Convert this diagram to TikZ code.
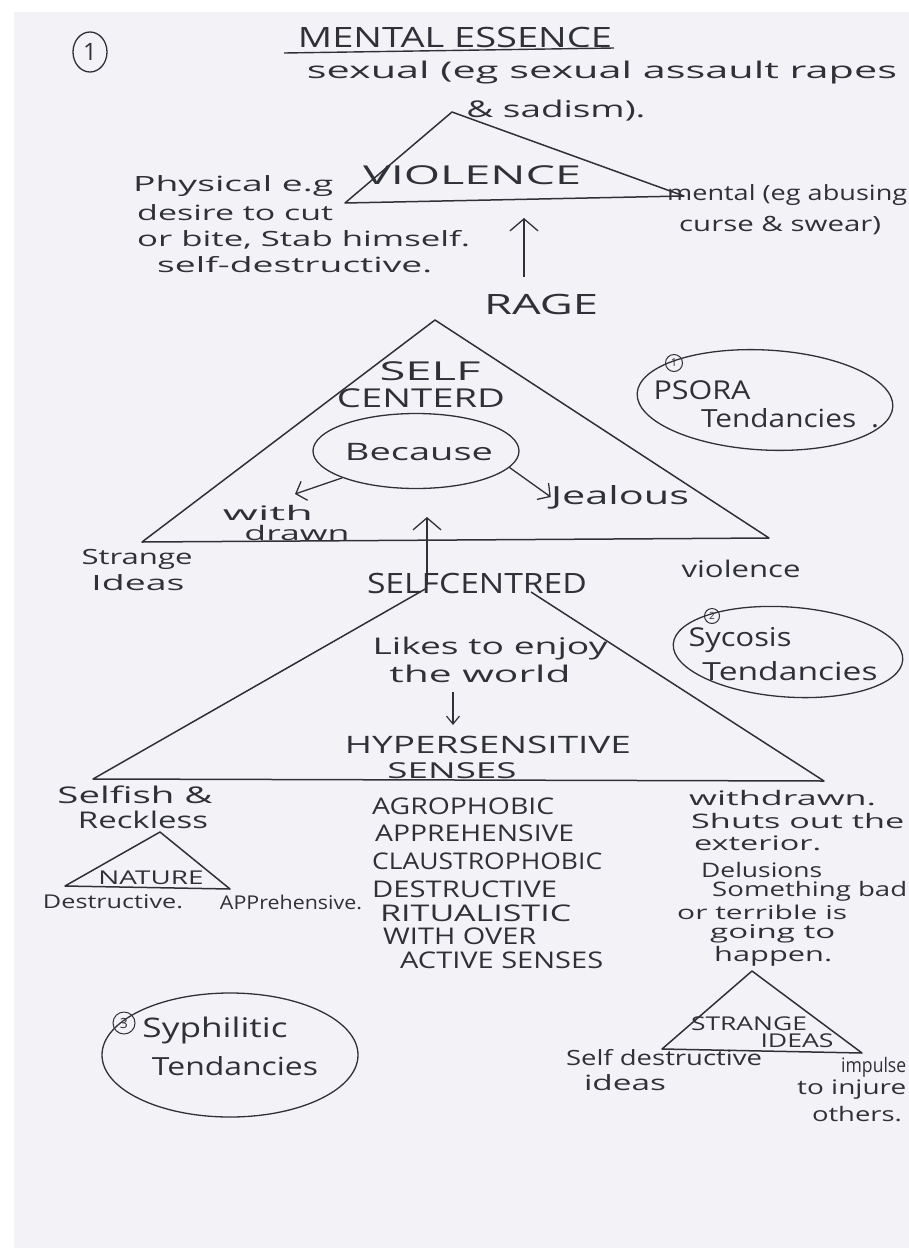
\documentclass[tikz,border=0pt]{standalone}
\usepackage{fontspec}
\setmainfont{Open Sans}
\usetikzlibrary{arrows.meta,shapes.geometric}
\definecolor{paper}{RGB}{243,243,247}
\definecolor{ink}{RGB}{48,48,56}
\newcommand{\hw}[3]{\resizebox{#1pt}{\height}{\fontsize{#2}{#2}\selectfont #3}}
\begin{document}
\begin{tikzpicture}[x=1pt,y=-1pt,
  lbl/.style={inner sep=0pt,text=ink},
  tri/.style={draw=ink,line width=1.5pt,line join=round},
  ring/.style={draw=ink,line width=1.3pt,ellipse,inner sep=0pt},
  num/.style={draw=ink,line width=1pt,circle,inner sep=0pt,text=ink},
  arr/.style={draw=ink,line width=1.3pt,-{Straight Barb[length=12pt,width=28pt]}},
  arrs/.style={draw=ink,line width=1.3pt,-{Straight Barb[length=9pt,width=20pt]}},
  arrt/.style={draw=ink,line width=1.2pt,-{Straight Barb[length=8pt,width=13pt]}}]
\useasboundingbox (0,0) rectangle (909,1248);
\clip (0,0) rectangle (909,1248);
\fill[white] (0,0) rectangle (909,1248);
\fill[paper] (14,12) rectangle (909,1248);

% ---- header
\node[ring,minimum width=34pt,minimum height=40pt,text=ink,font=\fontsize{24}{24}\selectfont] (one) at (90,52) {1};
\node[lbl] (title) at (455,37) {\hw{314}{28}{MENTAL ESSENCE}};
\coordinate (ul1) at (284,53);
\coordinate (ul2) at (614,48);
\draw[draw=ink,line width=1.4pt] (ul1) -- (ul2);
\node[lbl] (sexual) at (602,73) {\hw{590}{23}{sexual (eg sexual assault rapes}};
\node[lbl] (sadism) at (556,111) {\hw{179}{23}{\& sadism).}};

% ---- violence triangle
\coordinate (vA) at (452,112);
\coordinate (vL) at (345,203);
\coordinate (vR) at (684,196);
\draw[tri] (vA) -- (vL) -- (vR) -- cycle;
\node[lbl] (violence) at (472,175) {\hw{218}{26}{VIOLENCE}};
\node[lbl,anchor=west] (phys1) at (133,186) {\hw{200}{21}{Physical e.g}};
\node[lbl,anchor=west] (phys2) at (137,213) {\hw{196}{21}{desire to cut}};
\node[lbl,anchor=west] (phys3) at (137,240) {\hw{333}{21}{or bite, Stab himself.}};
\node[lbl,anchor=west] (phys4) at (157,265) {\hw{275}{21}{self-destructive.}};
\node[lbl,anchor=west] (ment1) at (667,195) {\hw{240}{21}{mental (eg abusing}};
\node[lbl,anchor=west] (ment2) at (679,226) {\hw{202}{21}{curse \& swear)}};

% ---- rage
\node[lbl] (rage) at (541,304) {\hw{114}{28}{RAGE}};
\coordinate (rageFoot) at (524,277);
\coordinate (rageTip) at (524,218);
\draw[arr] (rageFoot) -- (rageTip);

% ---- self centered triangle
\coordinate (scA) at (435,320);
\coordinate (scL) at (142,542);
\coordinate (scR) at (769,538);
\draw[tri] (scA) -- (scL) -- (scR) -- cycle;
\node[lbl] (self) at (430,371) {\hw{101}{26}{SELF}};
\node[lbl] (centerd) at (421,398) {\hw{168}{26}{CENTERD}};
\node[ring,minimum width=206pt,minimum height=75pt] (because) at (416,451) {};
\node[lbl] (becausetxt) at (419,452) {\hw{148}{24}{Because}};
\node[lbl] (with) at (268,513) {\hw{90}{20}{with}};
\node[lbl] (drawn) at (297,533) {\hw{105}{20}{drawn}};
\node[lbl] (jealous) at (620,497) {\hw{138}{25}{Jealous}};
\coordinate (wdTip) at (295,494);
\draw[arrs] (because.200) -- (wdTip);
\draw[arrs] (because.-10) -- (jealous.west);
\node[lbl] (strange) at (137,559) {\hw{111}{21}{Strange}};
\node[lbl] (ideas) at (138,583) {\hw{93}{21}{Ideas}};
\node[lbl] (violence2) at (741,569) {\hw{119}{23}{violence}};
\node[lbl] (selfcentred) at (477,583) {\hw{220}{28}{SELFCENTRED}};
\coordinate (scFoot) at (427,585);
\coordinate (scTip) at (427,517);
\draw[arr] (scFoot) -- (scTip);

% ---- psora
\node[ring,minimum width=256pt,minimum height=100pt,rotate=-3] (psora) at (765,400) {};
\node[num,minimum size=17pt,font=\fontsize{11}{11}\selectfont] (psnum) at (674,363) {1};
\node[lbl] (psoratxt) at (702,390) {\hw{97}{26}{PSORA}};
\node[lbl] (psoratend) at (790,418) {\hw{178}{25}{Tendancies\hspace{0.5em}.}};

% ---- lower big triangle
\coordinate (lowL0) at (427,588);
\coordinate (lowR0) at (531,592);
\coordinate (lowL) at (93,779);
\coordinate (lowR) at (824,781);
\draw[tri] (lowL0) -- (lowL) -- (lowR) -- (lowR0);
\node[lbl] (likes) at (490,649) {\hw{235}{23}{Likes to enjoy}};
\node[lbl] (world) at (480,674) {\hw{181}{23}{the world}};
\coordinate (hyTop) at (453,692);
\coordinate (hyTip) at (453,725);
\draw[arrt] (hyTop) -- (hyTip);
\node[lbl] (hyper) at (488,745) {\hw{286}{24}{HYPERSENSITIVE}};
\node[lbl] (senses) at (452,771) {\hw{129}{22}{SENSES}};

% ---- sycosis
\node[ring,minimum width=230pt,minimum height=90pt,rotate=-4] (sycosis) at (788,652) {};
\node[num,minimum size=15pt,font=\fontsize{10}{10}\selectfont] (synum) at (712,616) {2};
\node[lbl] (sycosistxt) at (740,640) {\hw{103}{26}{Sycosis}};
\node[lbl] (sycosistend) at (790,671) {\hw{175}{25}{Tendancies}};

% ---- left: nature
\node[lbl] (selfish) at (135,795) {\hw{155}{23}{Selfish \&}};
\node[lbl] (reckless) at (143,820) {\hw{130}{23}{Reckless}};
\coordinate (natA) at (160,832);
\coordinate (natL) at (65,886);
\coordinate (natR) at (230,889);
\draw[tri] (natA) -- (natL) -- (natR) -- cycle;
\node[lbl] (nature) at (151,878) {\hw{105}{19}{NATURE}};
\node[lbl] (destr) at (113,902) {\hw{140}{19}{Destructive.}};
\node[lbl] (appr) at (291,902) {\hw{142}{19}{APPrehensive.}};

% ---- middle list
\node[lbl,anchor=west] (l1) at (372,806) {\hw{182}{23}{AGROPHOBIC}};
\node[lbl,anchor=west] (l2) at (375,833) {\hw{199}{23}{APPREHENSIVE}};
\node[lbl,anchor=west] (l3) at (372,861) {\hw{230}{23}{CLAUSTROPHOBIC}};
\node[lbl,anchor=west] (l4) at (372,889) {\hw{185}{23}{DESTRUCTIVE}};
\node[lbl,anchor=west] (l5) at (380,913) {\hw{191}{23}{RITUALISTIC}};
\node[lbl,anchor=west] (l6) at (383,936) {\hw{153}{23}{WITH OVER}};
\node[lbl,anchor=west] (l7) at (400,960) {\hw{203}{23}{ACTIVE SENSES}};

% ---- right block
\node[lbl,anchor=west] (r1) at (689,798) {\hw{187}{20}{withdrawn.}};
\node[lbl,anchor=west] (r2) at (691,821) {\hw{213}{20}{Shuts out the}};
\node[lbl,anchor=west] (r3) at (694,843) {\hw{127}{20}{exterior.}};
\node[lbl,anchor=west] (r4) at (701,870) {\hw{121}{20}{Delusions}};
\node[lbl,anchor=west] (r5) at (712,891) {\hw{195}{20}{Something bad}};
\node[lbl,anchor=west] (r6) at (677,912) {\hw{170}{19}{or terrible is}};
\node[lbl,anchor=west] (r7) at (710,934) {\hw{125}{19}{going to}};
\node[lbl,anchor=west] (r8) at (714,956) {\hw{118}{20}{happen.}};

% ---- strange ideas triangle
\coordinate (siA) at (752,971);
\coordinate (siL) at (662,1049);
\coordinate (siR) at (862,1053);
\draw[tri] (siA) -- (siL) -- (siR) -- cycle;
\node[lbl] (strg) at (749,1024) {\hw{116}{19}{STRANGE}};
\node[lbl] (idea) at (797,1041) {\hw{73}{19}{IDEAS}};
\node[lbl] (sd1) at (664,1058) {\hw{196}{21}{Self destructive}};
\node[lbl] (sd2) at (625,1083) {\hw{82}{21}{ideas}};
\node[lbl,anchor=west] (imp1) at (841,1067) {\hw{65}{20}{impulse}};
\node[lbl,anchor=west] (imp2) at (797,1090) {\hw{109}{20}{to injure}};
\node[lbl] (imp3) at (857,1114) {\hw{90}{20}{others.}};

% ---- syphilitic
\node[ring,minimum width=256pt,minimum height=124pt] (syph) at (230,1055) {};
\node[num,minimum size=22pt,font=\fontsize{14}{14}\selectfont] (syphnum) at (124,1023) {3};
\node[lbl] (syphtxt) at (215,1030) {\hw{145}{27}{Syphilitic}};
\node[lbl] (syphtend) at (235,1066) {\hw{166}{25}{Tendancies}};
\end{tikzpicture}
\end{document}
